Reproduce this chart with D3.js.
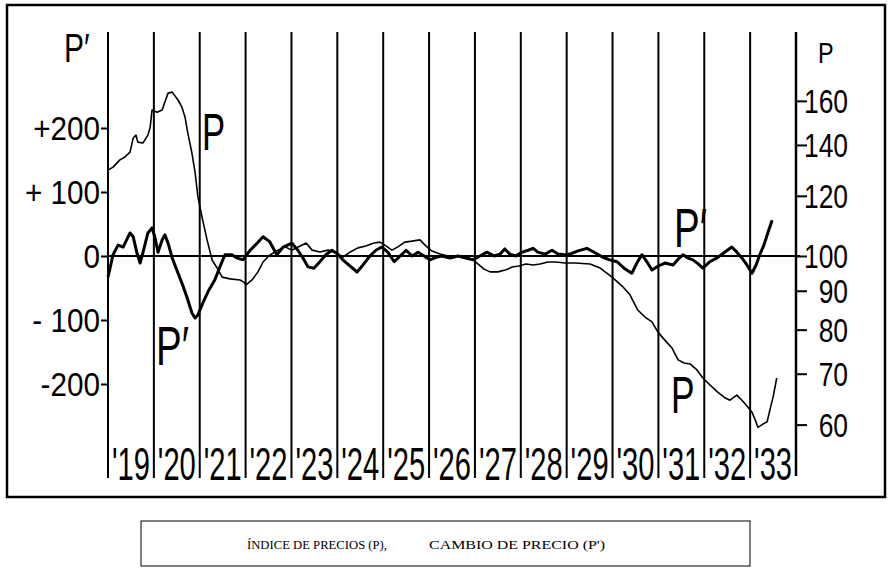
<!DOCTYPE html>
<html>
<head>
<meta charset="utf-8">
<script src="https://cdn.jsdelivr.net/npm/d3@7"></script>
<style>
  html, body { margin: 0; padding: 0; background: #fff; }
  svg { display: block; }
</style>
</head>
<body>
<svg id="chart" width="890" height="572"></svg>
<script>
// ---------- DATA ----------
const years = ["19","20","21","22","23","24","25","26","27","28","29","30","31","32","33"];
const leftTicks = [200, 100, 0, -100, -200];
const leftTickLabels = ["+200", "+ 100", "0", "- 100", "-200"];
const rightTicks = [160, 140, 120, 100, 90, 80, 70, 60];

// Price index P (right, log scale): [decimal year, index]
const priceIndex = [
  [1919.00,129.7],[1919.11,130.9],[1919.26,133.8],[1919.37,135.0],[1919.48,137.0],[1919.55,143.0],
  [1919.61,144.2],[1919.65,141.2],[1919.76,140.8],[1919.87,144.2],[1919.92,147.8],[1919.96,155.6],
  [1920.07,154.6],[1920.18,155.6],[1920.24,159.4],[1920.31,163.8],[1920.40,164.3],[1920.53,160.3],
  [1920.61,157.0],[1920.68,152.3],[1920.74,145.1],[1920.83,136.6],[1920.90,128.6],[1920.96,119.6],
  [1921.05,112.5],[1921.16,105.0],[1921.27,98.8],[1921.38,96.4],[1921.49,93.8],[1921.66,93.3],
  [1921.88,93.0],[1921.96,92.4],[1922.01,91.6],[1922.14,93.0],[1922.27,95.3],[1922.38,98.2],
  [1922.53,100.3],[1922.71,101.8],[1922.86,102.8],[1923.01,101.8],[1923.19,103.1],[1923.32,104.0],
  [1923.45,101.8],[1923.62,101.2],[1923.80,101.8],[1923.97,100.9],[1924.12,99.7],[1924.28,101.2],
  [1924.45,102.5],[1924.62,103.1],[1924.80,104.0],[1924.93,104.3],[1925.06,103.1],[1925.19,101.8],
  [1925.32,102.8],[1925.47,104.3],[1925.63,104.6],[1925.80,105.0],[1925.93,103.1],[1926.06,101.5],
  [1926.24,100.6],[1926.41,100.0],[1926.59,100.0],[1926.76,99.7],[1926.94,99.1],[1927.07,97.6],
  [1927.20,96.1],[1927.33,95.3],[1927.50,95.3],[1927.68,95.9],[1927.81,96.7],[1927.96,97.0],
  [1928.11,97.6],[1928.27,97.3],[1928.42,97.6],[1928.59,98.2],[1928.77,98.2],[1928.96,97.9],
  [1929.18,97.9],[1929.51,97.6],[1929.73,96.4],[1929.99,93.8],[1930.21,91.3],[1930.38,88.9],
  [1930.55,84.9],[1930.71,83.1],[1930.86,81.9],[1930.99,79.4],[1931.14,77.5],[1931.30,75.6],
  [1931.43,73.0],[1931.56,72.3],[1931.69,72.1],[1931.84,70.8],[1931.97,69.1],[1932.12,67.7],
  [1932.28,66.3],[1932.43,65.2],[1932.56,64.6],[1932.71,65.6],[1932.82,64.6],[1932.93,63.5],
  [1933.04,62.3],[1933.11,60.9],[1933.17,59.5],[1933.28,60.1],[1933.37,60.5],[1933.43,62.7],
  [1933.50,65.2],[1933.58,69.1]
];

// Price change P' (left, linear scale): [decimal year, change]
const priceChange = [
  [1919.00,-33],[1919.11,2],[1919.22,17],[1919.33,14],[1919.48,36],[1919.55,30],[1919.63,5],
  [1919.70,-11],[1919.76,5],[1919.87,36],[1919.96,44],[1920.02,30],[1920.09,6],[1920.18,25],
  [1920.24,33],[1920.31,20],[1920.40,-3],[1920.50,-22],[1920.61,-42],[1920.72,-64],[1920.83,-89],
  [1920.90,-97],[1920.96,-92],[1921.07,-73],[1921.18,-56],[1921.33,-37],[1921.44,-17],[1921.55,2],
  [1921.70,2],[1921.81,-3],[1921.94,-6],[1922.10,9],[1922.25,20],[1922.38,30],[1922.53,22],
  [1922.68,2],[1922.82,14],[1923.01,20],[1923.14,9],[1923.25,-3],[1923.36,-17],[1923.49,-19],
  [1923.62,-9],[1923.75,2],[1923.88,9],[1924.01,3],[1924.12,-6],[1924.28,-16],[1924.43,-25],
  [1924.56,-14],[1924.71,0],[1924.84,9],[1924.97,14],[1925.10,6],[1925.24,-9],[1925.37,0],
  [1925.50,9],[1925.63,0],[1925.76,6],[1925.89,0],[1926.02,-6],[1926.15,-2],[1926.28,0],
  [1926.46,-3],[1926.63,0],[1926.80,-3],[1926.96,-6],[1927.11,0],[1927.26,6],[1927.42,0],
  [1927.55,3],[1927.65,11],[1927.76,3],[1927.89,0],[1928.03,6],[1928.16,9],[1928.27,12],
  [1928.37,6],[1928.53,3],[1928.68,9],[1928.81,3],[1928.96,2],[1929.07,3],[1929.25,8],
  [1929.44,12],[1929.62,5],[1929.79,-2],[1929.94,-6],[1930.10,-9],[1930.25,-19],[1930.42,-27],
  [1930.53,-11],[1930.64,2],[1930.75,-9],[1930.86,-22],[1930.99,-16],[1931.14,-11],[1931.32,-14],
  [1931.43,-5],[1931.54,2],[1931.64,-3],[1931.75,-6],[1931.86,-12],[1931.97,-19],[1932.12,-9],
  [1932.28,-3],[1932.43,5],[1932.60,14],[1932.71,6],[1932.82,-3],[1932.93,-14],[1933.04,-27],
  [1933.13,-14],[1933.21,2],[1933.30,17],[1933.39,37],[1933.48,56]
];

const legendText1 = "ÍNDICE DE PRECIOS (P),";
const legendText2 = "CAMBIO DE PRECIO (P')";

// ---------- LAYOUT ----------
const svg = d3.select("#chart");
const X0 = 108, X1 = 796, YT = 32, YB = 480, Y0 = 256;
const x = d3.scaleLinear().domain([1919, 1934]).range([X0, X1]);
const yL = d3.scaleLinear().domain([-350, 350]).range([YB, YT]);
const yR = d3.scaleLog().domain([100, 160]).range([Y0, Y0 - 760 * Math.log10(1.6)]);

const SANS = "'Liberation Sans', Arial, sans-serif";
const SERIF = "'Liberation Serif', 'DejaVu Serif', serif";

// outer frame
svg.append("rect").attr("x", 7).attr("y", 5).attr("width", 878).attr("height", 492)
  .attr("fill", "none").attr("stroke", "#000").attr("stroke-width", 2.5);

// year grid lines
const yearBounds = d3.range(1919, 1934);
svg.append("g").selectAll("line").data(yearBounds).join("line")
  .attr("x1", d => x(d)).attr("x2", d => x(d))
  .attr("y1", YT).attr("y2", 478)
  .attr("stroke", "#000").attr("stroke-width", 2);

// zero line
svg.append("line").attr("x1", X0).attr("x2", X1 + 4)
  .attr("y1", yL(0)).attr("y2", yL(0))
  .attr("stroke", "#000").attr("stroke-width", 2);

// left axis
const leftAxis = d3.axisLeft(yL).tickValues(leftTicks)
  .tickFormat((d, i) => leftTickLabels[i]).tickSize(7).tickSizeOuter(0);
const gL = svg.append("g").attr("transform", `translate(${X0},0)`).call(leftAxis);
gL.select(".domain").attr("stroke", "#000").attr("stroke-width", 2)
  .attr("d", `M0,${YT}V478`);
gL.selectAll(".tick line").attr("stroke", "#000").attr("stroke-width", 2);
const sxL = 0.9;
gL.selectAll(".tick text")
  .attr("font-family", SANS).attr("font-size", 33).attr("fill", "#000")
  .attr("x", -8 / sxL).attr("dy", "0.36em")
  .attr("transform", `scale(${sxL},1)`);

// right axis
const rightAxis = d3.axisRight(yR).tickValues(rightTicks)
  .tickFormat(d3.format("d")).tickSize(11).tickSizeOuter(0);
const gR = svg.append("g").attr("transform", `translate(${X1},0)`).call(rightAxis);
gR.select(".domain").attr("stroke", "#000").attr("stroke-width", 2.5)
  .attr("d", `M0,${YT}V476`);
gR.selectAll(".tick line").attr("stroke", "#000").attr("stroke-width", 2);
const sxR = 0.8;
gR.selectAll(".tick text")
  .attr("font-family", SANS).attr("font-size", 33).attr("fill", "#000")
  .attr("text-anchor", "end")
  .attr("x", 52 / sxR).attr("dy", "0.36em")
  .attr("transform", `scale(${sxR},1)`);

// year labels
const sxY = 0.62;
svg.append("g").selectAll("text").data(years).join("text")
  .attr("transform", (d, i) => `translate(${x(1919 + i + 0.5)},480) scale(${sxY},1)`)
  .attr("text-anchor", "middle")
  .attr("font-family", SANS).attr("font-size", 47).attr("fill", "#000")
  .text(d => "'" + d);

// lines
const lineP = d3.line().x(d => x(d[0])).y(d => yR(d[1]));
const lineC = d3.line().x(d => x(d[0])).y(d => yL(d[1]));

svg.append("path").datum(priceIndex).attr("d", lineP)
  .attr("fill", "none").attr("stroke", "#000").attr("stroke-width", 1.6)
  .attr("stroke-linejoin", "round");

svg.append("path").datum(priceChange).attr("d", lineC)
  .attr("fill", "none").attr("stroke", "#000").attr("stroke-width", 3)
  .attr("stroke-linejoin", "round");

// axis titles and in-chart labels
function label(txt, px, py, size, sx) {
  svg.append("text")
    .attr("transform", `translate(${px},${py}) scale(${sx},1)`)
    .attr("font-family", SANS).attr("font-size", size).attr("fill", "#000")
    .text(txt);
}
label("P′", 64, 62, 40, 0.75);
label("P", 818, 63, 30, 0.78);
label("P", 202, 150, 51, 0.68);
label("P′", 156, 365, 55, 0.7);
label("P′", 674, 247, 55, 0.7);
label("P", 671, 413, 52, 0.68);

// legend
svg.append("rect").attr("x", 141).attr("y", 521).attr("width", 609).attr("height", 45)
  .attr("fill", "none").attr("stroke", "#000").attr("stroke-width", 1);
svg.append("text").attr("x", 247).attr("y", 549)
  .attr("font-family", SERIF)
  .attr("font-size", 12.5).attr("fill", "#000")
  .attr("textLength", 140).attr("lengthAdjust", "spacingAndGlyphs")
  .text(legendText1);
svg.append("text").attr("x", 429).attr("y", 549)
  .attr("font-family", SERIF)
  .attr("font-size", 12.5).attr("fill", "#000")
  .attr("textLength", 176).attr("lengthAdjust", "spacingAndGlyphs")
  .text(legendText2);
</script>
</body>
</html>
